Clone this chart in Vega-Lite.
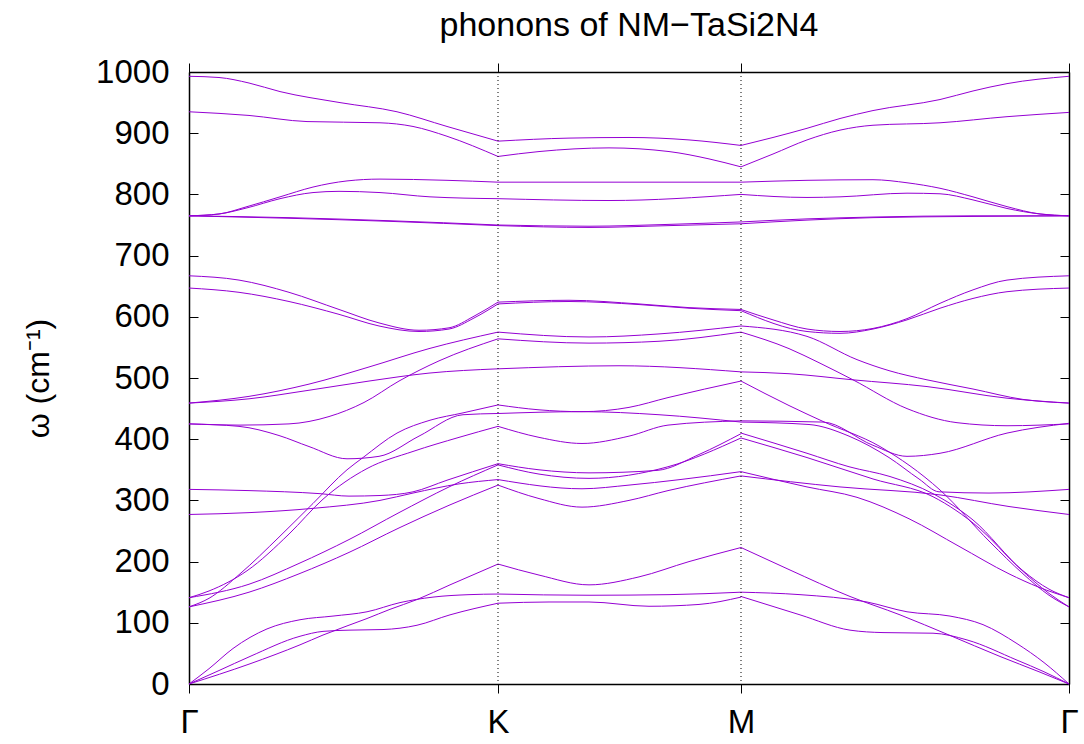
{
"$schema": "https://vega.github.io/schema/vega-lite/v6.json",
"width": 880, "height": 612,
"autosize": {"type": "none"},
"padding": {"left": 189, "top": 72, "right": 15, "bottom": 60},
"background": "white",
"title": {"text": "phonons of NM−TaSi2N4", "fontSize": 34, "font": "Liberation Sans", "fontWeight": "normal", "color": "black", "offset": 13, "anchor": "middle"},
"config": {
 "view": {"stroke": "black", "strokeWidth": 1},
 "axis": {"labelFont": "Liberation Sans", "titleFont": "Liberation Sans", "labelColor": "black", "titleColor": "black", "domainColor": "black", "tickColor": "black", "grid": false, "labelFontSize": 33, "titleFontSize": 32, "titleFontWeight": "normal", "domainWidth": 1.5, "tickWidth": 1}
},
"datasets": {"bands": [
{"s":"g1","x":0,"y":0},{"s":"g1","x":61,"y":33},{"s":"g1","x":111,"y":64},{"s":"g1","x":134,"y":80},{"s":"g1","x":178,"y":107},{"s":"g1","x":201,"y":122},{"s":"g1","x":228,"y":138},{"s":"g1","x":261,"y":162},{"s":"g1","x":309,"y":196},
{"s":"g2","x":0,"y":0},{"s":"g2","x":30,"y":22},{"s":"g2","x":61,"y":45},{"s":"g2","x":111,"y":78},{"s":"g2","x":134,"y":86},{"s":"g2","x":160,"y":88},{"s":"g2","x":194,"y":89},{"s":"g2","x":228,"y":96},{"s":"g2","x":261,"y":113},{"s":"g2","x":309,"y":132},
{"s":"g3","x":0,"y":0},{"s":"g3","x":20,"y":25},{"s":"g3","x":44,"y":58},{"s":"g3","x":78,"y":90},{"s":"g3","x":111,"y":105},{"s":"g3","x":144,"y":111},{"s":"g3","x":178,"y":118},{"s":"g3","x":211,"y":133},{"s":"g3","x":244,"y":142},{"s":"g3","x":280,"y":146},{"s":"g3","x":309,"y":147},
{"s":"g4","x":0,"y":126},{"s":"g4","x":60,"y":150},{"s":"g4","x":110,"y":180},{"s":"g4","x":160,"y":215},{"s":"g4","x":210,"y":255},{"s":"g4","x":260,"y":292},{"s":"g4","x":309,"y":325},
{"s":"g5","x":0,"y":141},{"s":"g5","x":60,"y":163},{"s":"g5","x":110,"y":197},{"s":"g5","x":160,"y":236},{"s":"g5","x":210,"y":280},{"s":"g5","x":260,"y":322},{"s":"g5","x":309,"y":358},
{"s":"g6","x":0,"y":277},{"s":"g6","x":60,"y":280},{"s":"g6","x":124,"y":287},{"s":"g6","x":191,"y":300},{"s":"g6","x":224,"y":312},{"s":"g6","x":270,"y":327},{"s":"g6","x":309,"y":334},
{"s":"g7","x":0,"y":318},{"s":"g7","x":60,"y":316},{"s":"g7","x":131,"y":311},{"s":"g7","x":160,"y":307},{"s":"g7","x":191,"y":308},{"s":"g7","x":224,"y":314},{"s":"g7","x":258,"y":333},{"s":"g7","x":309,"y":360},
{"s":"g8","x":0,"y":126},{"s":"g8","x":20,"y":140},{"s":"g8","x":51,"y":180},{"s":"g8","x":90,"y":240},{"s":"g8","x":124,"y":295},{"s":"g8","x":158,"y":350},{"s":"g8","x":174,"y":370},{"s":"g8","x":208,"y":410},{"s":"g8","x":241,"y":431},{"s":"g8","x":274,"y":443},{"s":"g8","x":309,"y":456},
{"s":"g9","x":0,"y":141},{"s":"g9","x":20,"y":152},{"s":"g9","x":58,"y":185},{"s":"g9","x":100,"y":245},{"s":"g9","x":134,"y":302},{"s":"g9","x":178,"y":352},{"s":"g9","x":224,"y":380},{"s":"g9","x":270,"y":403},{"s":"g9","x":309,"y":421},
{"s":"g10","x":0,"y":425},{"s":"g10","x":50,"y":421},{"s":"g10","x":90,"y":406},{"s":"g10","x":120,"y":388},{"s":"g10","x":158,"y":368},{"s":"g10","x":190,"y":372},{"s":"g10","x":230,"y":405},{"s":"g10","x":274,"y":440},{"s":"g10","x":309,"y":442},
{"s":"g11","x":0,"y":425},{"s":"g11","x":50,"y":423},{"s":"g11","x":100,"y":425},{"s":"g11","x":140,"y":437},{"s":"g11","x":175,"y":460},{"s":"g11","x":210,"y":495},{"s":"g11","x":250,"y":528},{"s":"g11","x":309,"y":564},
{"s":"g12","x":0,"y":459},{"s":"g12","x":60,"y":466},{"s":"g12","x":120,"y":480},{"s":"g12","x":180,"y":495},{"s":"g12","x":240,"y":508},{"s":"g12","x":309,"y":515},
{"s":"g13","x":0,"y":459},{"s":"g13","x":60,"y":470},{"s":"g13","x":120,"y":490},{"s":"g13","x":180,"y":518},{"s":"g13","x":240,"y":548},{"s":"g13","x":309,"y":575},
{"s":"g14","x":0,"y":647},{"s":"g14","x":50,"y":640},{"s":"g14","x":100,"y":625},{"s":"g14","x":150,"y":604},{"s":"g14","x":190,"y":585},{"s":"g14","x":230,"y":576},{"s":"g14","x":260,"y":580},{"s":"g14","x":285,"y":598},{"s":"g14","x":309,"y":621},
{"s":"g15","x":0,"y":667},{"s":"g15","x":50,"y":660},{"s":"g15","x":100,"y":640},{"s":"g15","x":150,"y":612},{"s":"g15","x":190,"y":590},{"s":"g15","x":230,"y":578},{"s":"g15","x":260,"y":582},{"s":"g15","x":285,"y":601},{"s":"g15","x":309,"y":624},
{"s":"g16","x":0,"y":765},{"s":"g16","x":100,"y":762},{"s":"g16","x":200,"y":757},{"s":"g16","x":309,"y":750},
{"s":"g17","x":0,"y":765},{"s":"g17","x":100,"y":761},{"s":"g17","x":200,"y":756},{"s":"g17","x":309,"y":749},
{"s":"g18","x":0,"y":765},{"s":"g18","x":30,"y":768},{"s":"g18","x":58,"y":780},{"s":"g18","x":91,"y":796},{"s":"g18","x":124,"y":812},{"s":"g18","x":158,"y":822},{"s":"g18","x":191,"y":825},{"s":"g18","x":258,"y":823},{"s":"g18","x":309,"y":820},
{"s":"g19","x":0,"y":765},{"s":"g19","x":30,"y":768},{"s":"g19","x":58,"y":778},{"s":"g19","x":91,"y":793},{"s":"g19","x":124,"y":803},{"s":"g19","x":150,"y":805},{"s":"g19","x":191,"y":803},{"s":"g19","x":241,"y":796},{"s":"g19","x":309,"y":793},
{"s":"g20","x":0,"y":935},{"s":"g20","x":60,"y":929},{"s":"g20","x":118,"y":919},{"s":"g20","x":191,"y":917},{"s":"g20","x":224,"y":911},{"s":"g20","x":258,"y":895},{"s":"g20","x":309,"y":862},
{"s":"g21","x":0,"y":993},{"s":"g21","x":30,"y":991},{"s":"g21","x":60,"y":982},{"s":"g21","x":91,"y":968},{"s":"g21","x":151,"y":950},{"s":"g21","x":208,"y":935},{"s":"g21","x":258,"y":911},{"s":"g21","x":309,"y":887},
{"s":"k1","x":309,"y":132},{"s":"k1","x":360,"y":134},{"s":"k1","x":400,"y":134},{"s":"k1","x":460,"y":127},{"s":"k1","x":510,"y":130},{"s":"k1","x":552,"y":142},
{"s":"k2","x":309,"y":147},{"s":"k2","x":400,"y":145},{"s":"k2","x":480,"y":146},{"s":"k2","x":552,"y":150},
{"s":"k3","x":309,"y":196},{"s":"k3","x":350,"y":178},{"s":"k3","x":400,"y":162},{"s":"k3","x":450,"y":175},{"s":"k3","x":500,"y":200},{"s":"k3","x":552,"y":223},
{"s":"k4","x":309,"y":325},{"s":"k4","x":350,"y":303},{"s":"k4","x":393,"y":289},{"s":"k4","x":440,"y":300},{"s":"k4","x":479,"y":316},{"s":"k4","x":552,"y":340},
{"s":"k5","x":309,"y":334},{"s":"k5","x":393,"y":319},{"s":"k5","x":440,"y":325},{"s":"k5","x":491,"y":334},{"s":"k5","x":552,"y":347},
{"s":"k6","x":309,"y":360},{"s":"k6","x":350,"y":350},{"s":"k6","x":400,"y":345},{"s":"k6","x":468,"y":349},{"s":"k6","x":510,"y":375},{"s":"k6","x":552,"y":409},
{"s":"k7","x":309,"y":358},{"s":"k7","x":350,"y":343},{"s":"k7","x":400,"y":336},{"s":"k7","x":479,"y":355},{"s":"k7","x":552,"y":402},
{"s":"k8","x":309,"y":421},{"s":"k8","x":350,"y":403},{"s":"k8","x":393,"y":393},{"s":"k8","x":440,"y":405},{"s":"k8","x":479,"y":423},{"s":"k8","x":552,"y":430},
{"s":"k9","x":309,"y":442},{"s":"k9","x":393,"y":445},{"s":"k9","x":470,"y":440},{"s":"k9","x":552,"y":428},
{"s":"k10","x":309,"y":456},{"s":"k10","x":350,"y":448},{"s":"k10","x":393,"y":445},{"s":"k10","x":440,"y":452},{"s":"k10","x":479,"y":468},{"s":"k10","x":552,"y":495},
{"s":"k11","x":309,"y":515},{"s":"k11","x":430,"y":520},{"s":"k11","x":552,"y":510},
{"s":"k12","x":309,"y":564},{"s":"k12","x":400,"y":557},{"s":"k12","x":470,"y":560},{"s":"k12","x":552,"y":575},
{"s":"k13","x":309,"y":575},{"s":"k13","x":400,"y":567},{"s":"k13","x":470,"y":572},{"s":"k13","x":552,"y":585},
{"s":"k14","x":309,"y":621},{"s":"k14","x":380,"y":625},{"s":"k14","x":450,"y":620},{"s":"k14","x":500,"y":614},{"s":"k14","x":552,"y":610},
{"s":"k15","x":309,"y":624},{"s":"k15","x":380,"y":627},{"s":"k15","x":450,"y":621},{"s":"k15","x":500,"y":615},{"s":"k15","x":552,"y":612},
{"s":"k16","x":309,"y":749},{"s":"k16","x":400,"y":746},{"s":"k16","x":480,"y":749},{"s":"k16","x":552,"y":752},
{"s":"k17","x":309,"y":750},{"s":"k17","x":400,"y":748},{"s":"k17","x":480,"y":751},{"s":"k17","x":552,"y":755},
{"s":"k18","x":309,"y":793},{"s":"k18","x":420,"y":790},{"s":"k18","x":552,"y":800},
{"s":"k19","x":309,"y":820},{"s":"k19","x":430,"y":820},{"s":"k19","x":552,"y":820},
{"s":"k20","x":309,"y":862},{"s":"k20","x":350,"y":870},{"s":"k20","x":420,"y":876},{"s":"k20","x":480,"y":870},{"s":"k20","x":520,"y":858},{"s":"k20","x":552,"y":845},
{"s":"k21","x":309,"y":887},{"s":"k21","x":380,"y":892},{"s":"k21","x":440,"y":893},{"s":"k21","x":500,"y":889},{"s":"k21","x":552,"y":880},
{"s":"m1","x":552,"y":150},{"s":"m1","x":611,"y":146},{"s":"m1","x":678,"y":134},{"s":"m1","x":718,"y":118},{"s":"m1","x":761,"y":111},{"s":"m1","x":794,"y":97},{"s":"m1","x":828,"y":66},{"s":"m1","x":855,"y":35},{"s":"m1","x":880,"y":0},
{"s":"m2","x":552,"y":143},{"s":"m2","x":611,"y":113},{"s":"m2","x":661,"y":88},{"s":"m2","x":694,"y":84},{"s":"m2","x":744,"y":83},{"s":"m2","x":778,"y":72},{"s":"m2","x":828,"y":39},{"s":"m2","x":855,"y":20},{"s":"m2","x":880,"y":0},
{"s":"m3","x":552,"y":223},{"s":"m3","x":600,"y":187},{"s":"m3","x":661,"y":143},{"s":"m3","x":711,"y":113},{"s":"m3","x":760,"y":80},{"s":"m3","x":811,"y":45},{"s":"m3","x":850,"y":20},{"s":"m3","x":880,"y":0},
{"s":"m4","x":552,"y":347},{"s":"m4","x":618,"y":322},{"s":"m4","x":668,"y":305},{"s":"m4","x":720,"y":270},{"s":"m4","x":770,"y":225},{"s":"m4","x":820,"y":180},{"s":"m4","x":850,"y":158},{"s":"m4","x":880,"y":141},
{"s":"m5","x":552,"y":340},{"s":"m5","x":651,"y":322},{"s":"m5","x":751,"y":309},{"s":"m5","x":820,"y":290},{"s":"m5","x":880,"y":277},
{"s":"m6","x":552,"y":410},{"s":"m6","x":618,"y":377},{"s":"m6","x":660,"y":355},{"s":"m6","x":701,"y":339},{"s":"m6","x":744,"y":311},{"s":"m6","x":784,"y":268},{"s":"m6","x":834,"y":185},{"s":"m6","x":860,"y":155},{"s":"m6","x":880,"y":141},
{"s":"m7","x":552,"y":402},{"s":"m7","x":618,"y":370},{"s":"m7","x":684,"y":335},{"s":"m7","x":744,"y":306},{"s":"m7","x":790,"y":255},{"s":"m7","x":830,"y":190},{"s":"m7","x":860,"y":148},{"s":"m7","x":880,"y":126},
{"s":"m8","x":552,"y":495},{"s":"m8","x":600,"y":455},{"s":"m8","x":634,"y":429},{"s":"m8","x":691,"y":388},{"s":"m8","x":751,"y":317},{"s":"m8","x":801,"y":232},{"s":"m8","x":834,"y":180},{"s":"m8","x":860,"y":145},{"s":"m8","x":880,"y":126},
{"s":"m9","x":552,"y":428},{"s":"m9","x":620,"y":424},{"s":"m9","x":660,"y":405},{"s":"m9","x":700,"y":370},{"s":"m9","x":730,"y":335},{"s":"m9","x":750,"y":314},{"s":"m9","x":800,"y":312},{"s":"m9","x":880,"y":318},
{"s":"m10","x":552,"y":430},{"s":"m10","x":634,"y":428},{"s":"m10","x":684,"y":390},{"s":"m10","x":718,"y":372},{"s":"m10","x":751,"y":377},{"s":"m10","x":818,"y":410},{"s":"m10","x":880,"y":426},
{"s":"m11","x":552,"y":510},{"s":"m11","x":600,"y":507},{"s":"m11","x":664,"y":497},{"s":"m11","x":738,"y":486},{"s":"m11","x":818,"y":467},{"s":"m11","x":880,"y":459},
{"s":"m12","x":552,"y":575},{"s":"m12","x":600,"y":548},{"s":"m12","x":630,"y":525},{"s":"m12","x":664,"y":497},{"s":"m12","x":718,"y":450},{"s":"m12","x":768,"y":427},{"s":"m12","x":818,"y":422},{"s":"m12","x":880,"y":425},
{"s":"m13","x":552,"y":585},{"s":"m13","x":618,"y":568},{"s":"m13","x":668,"y":530},{"s":"m13","x":700,"y":512},{"s":"m13","x":738,"y":497},{"s":"m13","x":784,"y":482},{"s":"m13","x":834,"y":465},{"s":"m13","x":880,"y":459},
{"s":"m14","x":552,"y":612},{"s":"m14","x":584,"y":595},{"s":"m14","x":618,"y":580},{"s":"m14","x":651,"y":576},{"s":"m14","x":684,"y":581},{"s":"m14","x":718,"y":597},{"s":"m14","x":751,"y":622},{"s":"m14","x":784,"y":644},{"s":"m14","x":818,"y":660},{"s":"m14","x":880,"y":667},
{"s":"m15","x":552,"y":610},{"s":"m15","x":618,"y":576},{"s":"m15","x":651,"y":573},{"s":"m15","x":684,"y":580},{"s":"m15","x":718,"y":595},{"s":"m15","x":751,"y":614},{"s":"m15","x":784,"y":630},{"s":"m15","x":818,"y":641},{"s":"m15","x":880,"y":647},
{"s":"m16","x":552,"y":752},{"s":"m16","x":618,"y":758},{"s":"m16","x":684,"y":762},{"s":"m16","x":784,"y":764},{"s":"m16","x":880,"y":765},
{"s":"m17","x":552,"y":755},{"s":"m17","x":618,"y":760},{"s":"m17","x":684,"y":763},{"s":"m17","x":784,"y":765},{"s":"m17","x":880,"y":765},
{"s":"m18","x":552,"y":800},{"s":"m18","x":618,"y":795},{"s":"m18","x":651,"y":796},{"s":"m18","x":718,"y":802},{"s":"m18","x":751,"y":801},{"s":"m18","x":784,"y":791},{"s":"m18","x":818,"y":777},{"s":"m18","x":851,"y":768},{"s":"m18","x":880,"y":765},
{"s":"m19","x":552,"y":820},{"s":"m19","x":618,"y":823},{"s":"m19","x":684,"y":824},{"s":"m19","x":718,"y":819},{"s":"m19","x":751,"y":810},{"s":"m19","x":784,"y":796},{"s":"m19","x":818,"y":780},{"s":"m19","x":851,"y":768},{"s":"m19","x":880,"y":765},
{"s":"m20","x":552,"y":845},{"s":"m20","x":584,"y":866},{"s":"m20","x":618,"y":889},{"s":"m20","x":651,"y":905},{"s":"m20","x":684,"y":913},{"s":"m20","x":751,"y":917},{"s":"m20","x":818,"y":927},{"s":"m20","x":880,"y":934},
{"s":"m21","x":552,"y":880},{"s":"m21","x":584,"y":893},{"s":"m21","x":618,"y":908},{"s":"m21","x":651,"y":924},{"s":"m21","x":684,"y":937},{"s":"m21","x":751,"y":955},{"s":"m21","x":784,"y":969},{"s":"m21","x":818,"y":981},{"s":"m21","x":880,"y":993}
],
"marks": [{"x": 309}, {"x": 552}]},
"layer": [
 {"data": {"name": "bands"},
  "mark": {"type": "line", "interpolate": "monotone", "color": "#9400D3", "strokeWidth": 1},
  "encoding": {
   "x": {"field": "x", "type": "quantitative", "scale": {"domain": [0, 880], "nice": false, "zero": false},
         "axis": {"orient": "bottom", "values": [0, 309, 552, 880], "labelExpr": "datum.value == 0 ? 'Γ' : datum.value == 309 ? 'K' : datum.value == 552 ? 'M' : 'Γ'", "tickSize": 9, "labelPadding": 13, "title": null, "labelFlush": false}},
   "y": {"field": "y", "type": "quantitative", "scale": {"domain": [0, 1000], "nice": false},
         "axis": {"orient": "left", "values": [0,100,200,300,400,500,600,700,800,900,1000], "format": "d", "tickSize": -9, "labelPadding": 29, "title": "ω (cm⁻¹)", "titlePadding": 40, "labelFlush": false}},
   "detail": {"field": "s"}
  }},
 {"data": {"name": "bands"},
  "mark": {"type": "line", "opacity": 0},
  "encoding": {
   "x": {"field": "x", "type": "quantitative", "scale": {"domain": [0, 880], "nice": false, "zero": false},
         "axis": {"orient": "top", "values": [0, 309, 552, 880], "labels": false, "tickSize": 9, "title": null}},
   "y": {"field": "y", "type": "quantitative", "scale": {"domain": [0, 1000], "nice": false},
         "axis": {"orient": "right", "values": [0,100,200,300,400,500,600,700,800,900,1000], "labels": false, "tickSize": -9, "title": null}},
   "detail": {"field": "s"}
  }},
 {"data": {"name": "marks"},
  "mark": {"type": "rule", "strokeDash": [1, 3], "color": "black", "strokeWidth": 1},
  "encoding": {"x": {"field": "x", "type": "quantitative", "axis": null}}}
],
"resolve": {"axis": {"x": "independent", "y": "independent"}}
}
